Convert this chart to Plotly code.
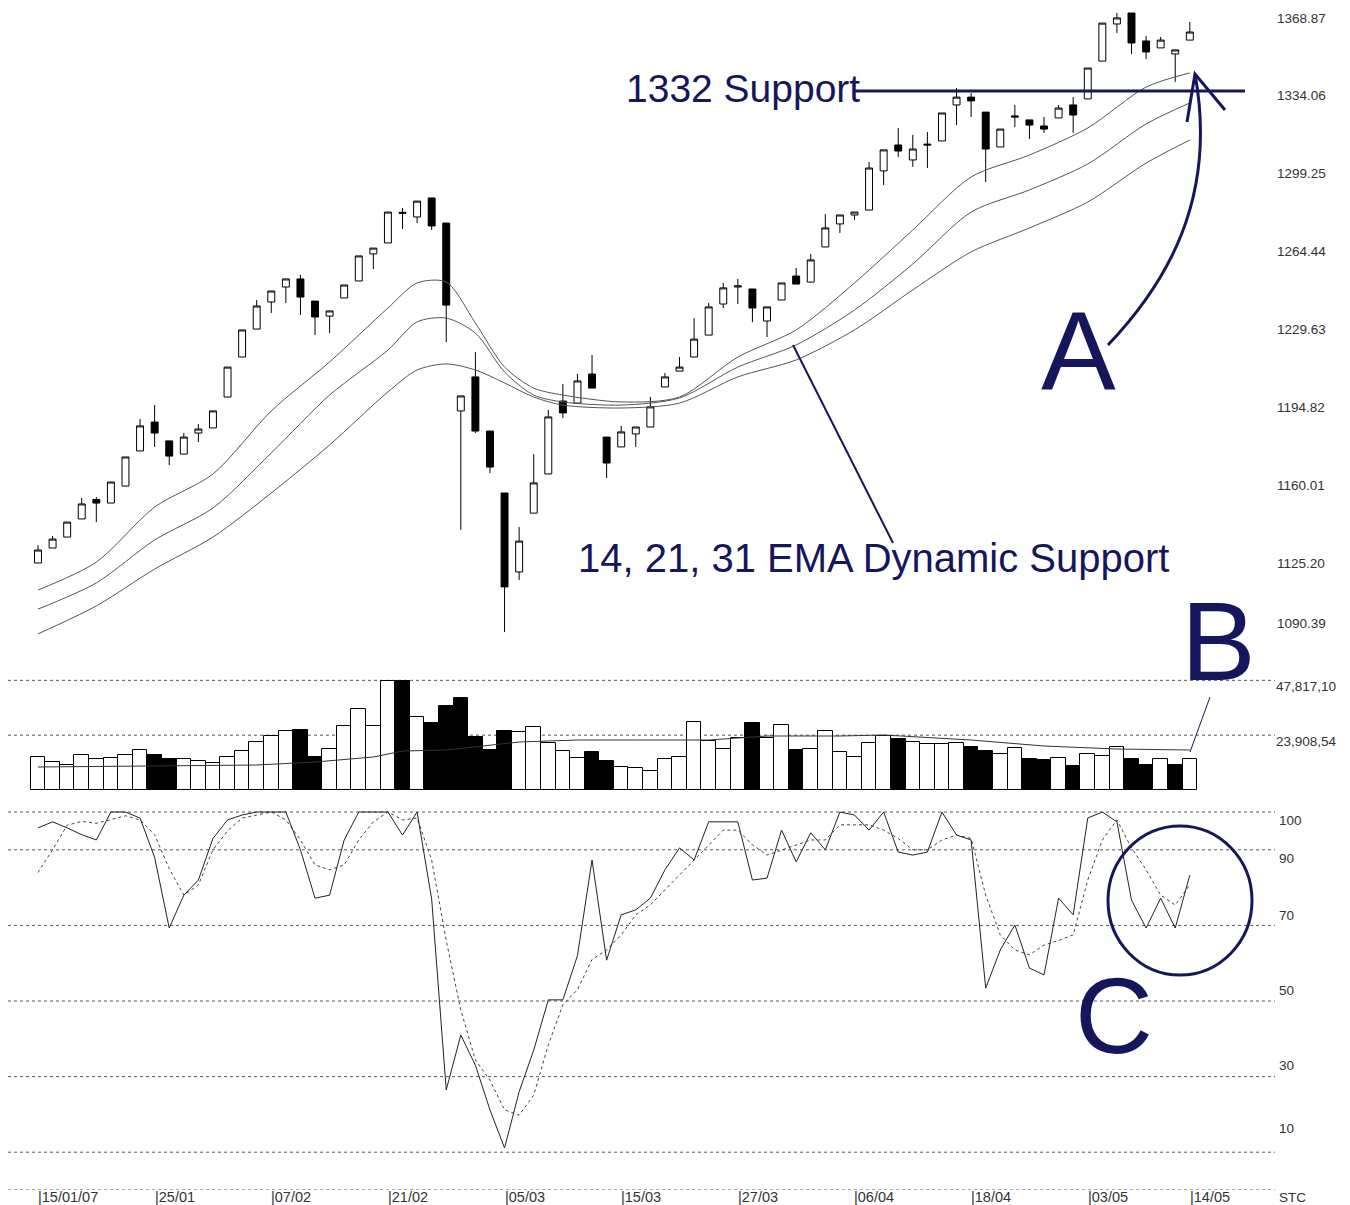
import plotly.graph_objects as go

# ---------------- data ----------------
opens = [1125.2, 1131.9, 1136.8, 1144.9, 1153.6, 1152.0, 1159.6, 1175.3, 1188.2, 1179.8,
         1173.9, 1183.3, 1185.6, 1199.4, 1217.3, 1229.8, 1241.9, 1248.6, 1252.2, 1242.3,
         1235.6, 1243.7, 1251.3, 1263.4, 1268.3, 1282.0, 1279.9, 1288.4, 1277.2, 1193.2,
         1208.4, 1184.2, 1156.5, 1121.2, 1147.5, 1165.0, 1197.6, 1196.7, 1209.7, 1181.5,
         1177.1, 1182.9, 1186.0, 1203.9, 1211.0, 1217.3, 1227.1, 1241.0, 1248.6, 1247.7,
         1233.4, 1242.8, 1253.5, 1250.8, 1266.5, 1276.8, 1280.8, 1283.0, 1300.5, 1312.1,
         1305.4, 1312.5, 1313.9, 1330.0, 1333.5, 1326.8, 1311.2, 1325.1, 1323.3, 1320.6,
         1324.2, 1330.0, 1332.7, 1349.6, 1366.2, 1371.1, 1358.6, 1355.5, 1352.8, 1359.0]
highs = [1133.2, 1137.3, 1143.5, 1154.3, 1154.7, 1161.4, 1172.6, 1189.6, 1195.8, 1179.8,
         1183.3, 1187.3, 1193.2, 1212.8, 1229.4, 1242.8, 1246.8, 1252.2, 1254.0, 1242.3,
         1237.9, 1249.5, 1262.5, 1266.0, 1282.1, 1283.9, 1287.0, 1288.4, 1277.2, 1199.9,
         1219.5, 1184.2, 1156.5, 1141.3, 1173.9, 1193.6, 1205.2, 1209.7, 1218.2, 1181.5,
         1186.5, 1186.0, 1199.4, 1210.1, 1217.3, 1234.7, 1241.5, 1250.4, 1252.2, 1247.7,
         1239.7, 1250.4, 1257.1, 1263.4, 1281.2, 1280.8, 1282.1, 1304.5, 1309.9, 1319.7,
         1316.6, 1317.9, 1326.4, 1337.6, 1335.3, 1326.8, 1319.2, 1330.0, 1323.3, 1324.6,
         1330.0, 1333.5, 1346.5, 1366.6, 1371.1, 1371.1, 1360.8, 1360.4, 1354.6, 1367.1]
lows = [1125.2, 1131.9, 1136.8, 1144.9, 1143.5, 1152.0, 1159.6, 1175.3, 1177.1, 1169.0,
        1173.9, 1179.3, 1185.6, 1199.4, 1217.3, 1229.8, 1237.0, 1241.5, 1236.1, 1227.1,
        1228.0, 1243.7, 1251.3, 1256.6, 1268.3, 1274.5, 1277.2, 1274.1, 1224.0, 1140.0,
        1183.3, 1165.4, 1094.3, 1117.6, 1147.5, 1165.0, 1190.0, 1196.7, 1203.4, 1163.2,
        1177.1, 1177.1, 1186.0, 1203.9, 1211.0, 1217.3, 1227.1, 1239.2, 1241.0, 1232.9,
        1226.2, 1242.8, 1249.9, 1250.8, 1266.5, 1272.7, 1278.6, 1283.0, 1294.2, 1306.7,
        1302.3, 1301.8, 1313.9, 1321.0, 1324.6, 1295.5, 1311.2, 1320.1, 1314.8, 1317.5,
        1324.2, 1317.5, 1332.7, 1349.6, 1362.2, 1352.8, 1350.5, 1355.5, 1340.3, 1359.0]
closes = [1131.0, 1135.9, 1143.5, 1151.6, 1152.0, 1161.4, 1172.6, 1186.5, 1183.3, 1173.0,
          1181.5, 1185.1, 1193.2, 1212.8, 1229.4, 1240.1, 1246.8, 1252.2, 1244.1, 1235.2,
          1237.9, 1249.5, 1262.5, 1266.0, 1282.1, 1281.6, 1287.0, 1275.9, 1240.5, 1199.9,
          1184.2, 1168.1, 1114.5, 1135.0, 1161.0, 1190.5, 1192.3, 1206.6, 1203.4, 1169.9,
          1183.8, 1186.0, 1195.0, 1208.4, 1212.8, 1225.3, 1239.7, 1248.2, 1249.1, 1239.2,
          1239.7, 1250.4, 1249.9, 1260.7, 1275.0, 1280.8, 1282.1, 1301.8, 1309.9, 1309.4,
          1310.3, 1312.1, 1326.4, 1333.5, 1331.8, 1310.3, 1319.2, 1324.6, 1321.0, 1319.2,
          1328.6, 1325.5, 1346.5, 1366.6, 1368.9, 1357.7, 1353.7, 1359.0, 1354.6, 1362.6]

volumes = [14388, 12208, 10900, 15260, 13516, 13952, 15260, 17440, 15260, 13516,
           13516, 12644, 11772, 14388, 17004, 20928, 23544, 25724, 26160, 14388,
           17876, 27904, 35316, 27904, 47700, 47700, 31828, 29212, 36624, 40112,
           23108, 17440, 25724, 25288, 27468, 20492, 17004, 13952, 16568, 12644,
           10028, 9592, 8284, 13516, 14388, 29648, 21364, 17876, 22672, 29212,
           22672, 28340, 17440, 17876, 25724, 16568, 14388, 20492, 23544, 22236,
           20928, 20056, 20056, 20492, 18748, 17004, 15696, 18312, 13516, 13080,
           13952, 10464, 15696, 14824, 18748, 13516, 10900, 13516, 10900, 13516]

vol_ma_idx = [0, 15, 19, 23, 25, 28, 33, 37, 41, 46, 50, 55, 58, 64, 69, 74, 79]
vol_ma = [10028, 10900, 12208, 14388, 17004, 17440, 20928, 21800, 21800, 21800,
          23544, 23544, 23980, 21800, 19184, 17876, 17440]

ema_idx = [0, 4, 8, 12, 16, 20, 24, 26, 28, 30, 32, 34, 36, 40, 44, 48, 52, 56, 60, 64, 68, 72, 76, 79]
ema14 = [1113.1, 1125.6, 1150.2, 1165.0, 1193.2, 1215.1, 1239.2, 1250.4, 1250.8, 1232.5,
         1212.8, 1203.4, 1200.3, 1197.2, 1199.4, 1217.3, 1229.4, 1250.4, 1274.1, 1297.8,
         1307.6, 1319.7, 1338.0, 1344.3]
ema21 = [1104.6, 1116.3, 1135.5, 1149.8, 1174.4, 1200.3, 1220.4, 1233.0, 1234.7, 1228.0,
         1210.6, 1200.3, 1197.2, 1195.8, 1199.0, 1212.8, 1222.7, 1238.3, 1258.9, 1282.1,
         1292.0, 1303.6, 1321.5, 1330.9]
ema31 = [1093.5, 1106.0, 1122.5, 1136.8, 1156.5, 1178.0, 1201.7, 1211.5, 1214.2, 1211.5,
         1205.7, 1199.4, 1195.8, 1194.5, 1196.7, 1208.4, 1216.0, 1229.4, 1247.3, 1264.3,
         1275.0, 1286.6, 1304.0, 1314.3]

stoch_k = [95.8, 97.4, 95.8, 94.0, 92.6, 100, 100, 98.4, 88.0, 69.3,
           78.0, 82.0, 93.0, 97.9, 99.2, 100, 100, 100, 90.0, 77.2,
           78.0, 92.6, 100, 100, 100, 93.9, 100, 77.0, 26.5, 41.0,
           33.0, 21.2, 11.1, 26.0, 37.0, 50.3, 50.3, 62.0, 87.3, 60.8,
           72.8, 74.1, 77.2, 84.7, 90.5, 87.3, 97.4, 97.4, 97.4, 82.0,
           82.5, 95.2, 86.8, 94.5, 90.0, 100, 99.2, 95.2, 100, 89.4,
           88.6, 89.4, 100, 93.9, 92.6, 53.4, 63.5, 70.1, 58.7, 56.9,
           77.2, 72.8, 98.4, 100, 97.4, 76.7, 69.3, 77.2, 69.3, 83.3]
stoch_d = [84.0, 90.0, 96.5, 97.5, 97.0, 98.0, 99.0, 97.9, 94.0, 85.0,
           78.0, 80.7, 90.0, 95.0, 98.4, 99.2, 100, 97.9, 92.6, 86.0,
           84.7, 86.0, 92.6, 97.4, 100, 97.9, 98.4, 87.3, 66.0, 47.6,
           34.4, 29.0, 21.2, 19.8, 25.1, 38.4, 49.0, 53.0, 61.0, 63.5,
           67.5, 72.8, 75.4, 79.4, 83.3, 87.3, 91.3, 95.2, 95.2, 91.3,
           88.6, 90.0, 91.3, 92.6, 92.6, 96.6, 96.6, 96.6, 95.2, 93.0,
           90.0, 90.0, 92.6, 93.9, 93.0, 78.0, 67.5, 63.5, 62.2, 64.8,
           66.0, 67.5, 82.0, 92.6, 97.9, 90.5, 84.7, 78.0, 75.4, 80.7]

date_tick_idx = [0, 8, 16, 24, 32, 40, 48, 56, 64, 72, 79]
date_labels = ["15/01/07", "25/01", "07/02", "21/02", "05/03", "15/03",
               "27/03", "06/04", "18/04", "03/05", "14/05"]
price_ticks = [1368.87, 1334.06, 1299.25, 1264.44, 1229.63, 1194.82, 1160.01, 1125.20, 1090.39]
vol_ticks = [47817.10, 23908.54]
vol_tick_text = ["47,817,10", "23,908,54"]
stoch_grid = [100, 90, 70, 50, 30, 10, 0]
stoch_labels = [100, 90, 70, 50, 30, 10]

# ---------------- page geometry ----------------
# the page body has an 8px margin, so the figure starts at (8, 8) of the window
OFF = 8
WIN_W, WIN_H = 1350, 1205
W, H = WIN_W - OFF, WIN_H - OFF
NAVY = "#16165c"
NARROW = "Liberation Sans Narrow, Arial Narrow, Liberation Sans, sans-serif"
SMALL = "Liberation Sans, Arial, sans-serif"

def px(x):
    return (x - OFF) / W

def py(y):
    return 1 - (y - OFF) / H

x_idx = list(range(len(closes)))
vol_colors = ["white"] + ["white" if closes[i] >= closes[i - 1] else "black" for i in range(1, len(closes))]

fig = go.Figure()

fig.add_trace(go.Candlestick(
    x=x_idx, open=opens, high=highs, low=lows, close=closes,
    increasing=dict(line=dict(color="black", width=1), fillcolor="white"),
    decreasing=dict(line=dict(color="black", width=1), fillcolor="black"),
    whiskerwidth=0, xaxis="x", yaxis="y", showlegend=False, hoverinfo="skip"))

for ema in (ema14, ema21, ema31):
    fig.add_trace(go.Scatter(x=ema_idx, y=ema, mode="lines",
                             line=dict(color="#555555", width=1, shape="spline", smoothing=0.8),
                             xaxis="x", yaxis="y", showlegend=False, hoverinfo="skip"))

fig.add_trace(go.Bar(x=x_idx, y=volumes, marker=dict(color=vol_colors, line=dict(color="black", width=1)),
                     xaxis="x", yaxis="y2", showlegend=False, hoverinfo="skip"))
fig.add_trace(go.Scatter(x=vol_ma_idx, y=vol_ma, mode="lines", line=dict(color="#333333", width=1),
                         xaxis="x", yaxis="y2", showlegend=False, hoverinfo="skip"))

fig.add_trace(go.Scatter(x=x_idx, y=stoch_d, mode="lines", line=dict(color="#444444", width=1, dash="3px,3px"),
                         xaxis="x", yaxis="y3", showlegend=False, hoverinfo="skip"))
fig.add_trace(go.Scatter(x=x_idx, y=stoch_k, mode="lines", line=dict(color="#222222", width=1),
                         xaxis="x", yaxis="y3", showlegend=False, hoverinfo="skip"))

# ---------------- axes geometry (window pixels) ----------------
x_left_px, x_right_px = 8, 1275
first_px, step_px = 38, 14.58
xr = [(x_left_px - first_px) / step_px, (x_right_px - first_px) / step_px]

price_top_px, price_bot_px = 8, 650
p_per_px = 0.4471
p_ref, p_ref_px = 1368.87, 18
price_range = [p_ref - (price_bot_px - p_ref_px) * p_per_px, p_ref + (p_ref_px - price_top_px) * p_per_px]

vol_top_px, vol_zero_px = 668, 790
v_per_px = 436
vol_range = [0, (vol_zero_px - vol_top_px) * v_per_px]

st_top_px, st_zero_px, st_100_px = 805, 1190, 812
st_per_px = 100 / (st_zero_px - st_100_px)
st_range = [0, (st_zero_px - st_top_px) * st_per_px]

hidden = dict(showgrid=False, zeroline=False, showticklabels=False, showline=False, ticks="")

fig.update_layout(
    width=W, height=H, autosize=False,
    margin=dict(l=0, r=0, t=0, b=0),
    paper_bgcolor="white", plot_bgcolor="white",
    bargap=0, boxgap=0.32,
    xaxis=dict(domain=[px(x_left_px), px(x_right_px)], range=xr, anchor="y3",
               rangeslider=dict(visible=False), **hidden),
    yaxis=dict(domain=[py(price_bot_px), py(price_top_px)], range=price_range, anchor="x", **hidden),
    yaxis2=dict(domain=[py(vol_zero_px), py(vol_top_px)], range=vol_range, anchor="x", **hidden),
    yaxis3=dict(domain=[py(st_zero_px), py(st_top_px)], range=st_range, anchor="x", **hidden),
)

shapes = []
for v in vol_ticks:
    shapes.append(dict(type="line", xref="x domain", yref="y2", x0=0, x1=1, y0=v, y1=v,
                       line=dict(color="#555555", width=1, dash="3px,3px"), layer="below"))
for v in stoch_grid:
    shapes.append(dict(type="line", xref="x domain", yref="y3", x0=0, x1=1, y0=v, y1=v,
                       line=dict(color="#555555", width=1, dash="3px,3px"), layer="below"))

shapes.append(dict(type="line", xref="paper", yref="paper", x0=px(855), x1=px(1245), y0=py(91), y1=py(91),
                   line=dict(color=NAVY, width=3)))
shapes.append(dict(type="line", xref="paper", yref="paper", x0=px(793), x1=px(893), y0=py(345), y1=py(543),
                   line=dict(color=NAVY, width=2)))
shapes.append(dict(type="line", xref="paper", yref="paper", x0=px(1210), x1=px(1190), y0=py(697), y1=py(752),
                   line=dict(color=NAVY, width=1)))

def P(x, y):
    return f"{px(x):.5f},{py(y):.5f}"

shapes.append(dict(type="path", xref="paper", yref="paper",
                   path=f"M{P(1108,345)} C{P(1165,285)} {P(1218,200)} {P(1195,74)}",
                   line=dict(color=NAVY, width=3)))
shapes.append(dict(type="path", xref="paper", yref="paper",
                   path=f"M{P(1187,122)} L{P(1195,74)} L{P(1225,110)}",
                   line=dict(color=NAVY, width=3)))
shapes.append(dict(type="circle", xref="paper", yref="paper", x0=px(1108), x1=px(1252), y0=py(975), y1=py(826),
                   line=dict(color=NAVY, width=3)))
fig.update_layout(shapes=shapes)

ann = []
lab_font = dict(family=SMALL, size=13.5, color="#333333")
for v in price_ticks:
    shift = 17 if v < 1100 else 0
    ann.append(dict(xref="paper", yref="y", x=px(1275), y=v, text=f"{v:.2f}", showarrow=False,
                    xanchor="left", yanchor="middle", yshift=shift, font=lab_font))
for v, t in zip(vol_ticks, vol_tick_text):
    ann.append(dict(xref="paper", yref="y2", x=px(1274), y=v, text=t, showarrow=False,
                    xanchor="left", yanchor="middle", yshift=-6, font=lab_font))
st_label_px = {100: 820, 90: 858, 70: 915, 50: 990, 30: 1065, 10: 1128}
for v in stoch_labels:
    ann.append(dict(xref="paper", yref="paper", x=px(1277), y=py(st_label_px[v]), text=str(v), showarrow=False,
                    xanchor="left", yanchor="middle", font=dict(family=NARROW, size=13.5, color="#333333")))
ann.append(dict(xref="paper", yref="paper", x=px(1277), y=py(1197), text="STC", showarrow=False,
                xanchor="left", yanchor="middle", font=dict(family=NARROW, size=13.5, color="#333333")))
for i, t in zip(date_tick_idx, date_labels):
    ann.append(dict(xref="x", yref="paper", x=i, y=py(1197), text="|" + t, showarrow=False,
                    xanchor="left", yanchor="middle", xshift=-2, font=dict(family=NARROW, size=14.5, color="#333333")))

big = dict(family=NARROW, color=NAVY)
ann.append(dict(xref="paper", yref="paper", x=px(743), y=py(88), text="1332 Support", showarrow=False,
                xanchor="center", yanchor="middle", font=dict(size=39, **big)))
ann.append(dict(xref="paper", yref="paper", x=px(873), y=py(558), text="14, 21, 31 EMA Dynamic Support",
                showarrow=False, xanchor="center", yanchor="middle", font=dict(size=40, **big)))
ann.append(dict(xref="paper", yref="paper", x=px(1078), y=py(350), text="A", showarrow=False,
                xanchor="center", yanchor="middle", font=dict(size=112, **big)))
ann.append(dict(xref="paper", yref="paper", x=px(1218), y=py(641), text="B", showarrow=False,
                xanchor="center", yanchor="middle", font=dict(size=112, **big)))
ann.append(dict(xref="paper", yref="paper", x=px(1114), y=py(1015), text="C", showarrow=False,
                xanchor="center", yanchor="middle", font=dict(size=108, **big)))
fig.update_layout(annotations=ann)

fig.write_html("out.html")
